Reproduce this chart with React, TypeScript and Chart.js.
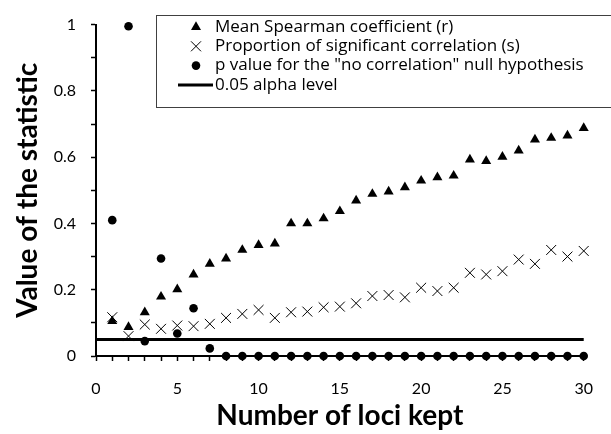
import React, { useEffect, useRef } from 'react';
import { Chart, registerables } from 'chart.js';

Chart.register(...registerables);

// ---- data ----
const lociKept = [1, 2, 3, 4, 5, 6, 7, 8, 9, 10, 11, 12, 13, 14, 15, 16, 17, 18, 19, 20, 21, 22, 23, 24, 25, 26, 27, 28, 29, 30];
const meanSpearman = [0.105, 0.087, 0.132, 0.179, 0.201, 0.246, 0.278, 0.294, 0.32, 0.335, 0.339, 0.4, 0.4, 0.415, 0.437, 0.469, 0.489, 0.496, 0.509, 0.529, 0.539, 0.544, 0.593, 0.588, 0.601, 0.62, 0.653, 0.658, 0.665, 0.688];
const propSignificant = [0.117, 0.06, 0.095, 0.082, 0.092, 0.09, 0.097, 0.115, 0.127, 0.139, 0.115, 0.132, 0.134, 0.147, 0.149, 0.159, 0.181, 0.184, 0.177, 0.206, 0.196, 0.206, 0.251, 0.246, 0.256, 0.291, 0.278, 0.32, 0.3, 0.317];
const pValueNoCorr = [0.41, 0.995, 0.045, 0.294, 0.068, 0.144, 0.023, 0, 0, 0, 0, 0, 0, 0, 0, 0, 0, 0, 0, 0, 0, 0, 0, 0, 0, 0, 0, 0, 0, 0];
const alphaX = [0, 30];
const alphaLevel = [0.05, 0.05];
const seriesLabels = [
  'Mean Spearman coefficient (r)',
  'Proportion of significant correlation (s)',
  'p value for the "no correlation" null hypothesis',
  '0.05 alpha level',
];
const xTitle = 'Number of loci kept';
const yTitle = 'Value of the statistic';

const FONT = 'Lato, "Open Sans", sans-serif';
const LEGEND_FONT = '"Open Sans", Lato, sans-serif';

const boxLegend = {
  id: 'boxLegend',
  afterDraw(chart: any) {
    const ctx = chart.ctx as CanvasRenderingContext2D;
    const left = 156, top = 15, right = 620, bottom = 107;
    const rowY = [27, 46.3, 65.6, 85];
    const markerX = 196;
    const textX = 215;
    ctx.save();
    ctx.fillStyle = '#fff';
    ctx.fillRect(left, top, right - left, bottom - top);
    ctx.strokeStyle = '#404040';
    ctx.lineWidth = 1;
    ctx.strokeRect(left + 0.5, top + 0.5, right - left, bottom - top);
    ctx.fillStyle = '#000';
    ctx.strokeStyle = '#000';
    chart.data.datasets.forEach((ds: any, i: number) => {
      const y = rowY[i];
      const style = ds.pointStyle;
      if (ds.showLine) {
        ctx.lineWidth = 3;
        ctx.beginPath();
        ctx.moveTo(178, y);
        ctx.lineTo(textX - 2, y);
        ctx.stroke();
      } else if (style === 'triangle') {
        const r = 5.8;
        ctx.beginPath();
        ctx.moveTo(markerX, y - r);
        ctx.lineTo(markerX + r * Math.sin((2 * Math.PI) / 3), y + r / 2);
        ctx.lineTo(markerX - r * Math.sin((2 * Math.PI) / 3), y + r / 2);
        ctx.closePath();
        ctx.fill();
      } else if (style === 'crossRot') {
        const d = 5;
        ctx.lineWidth = 1;
        ctx.beginPath();
        ctx.moveTo(markerX - d, y - d);
        ctx.lineTo(markerX + d, y + d);
        ctx.moveTo(markerX - d, y + d);
        ctx.lineTo(markerX + d, y - d);
        ctx.stroke();
      } else {
        ctx.beginPath();
        ctx.arc(markerX, y, 4.3, 0, Math.PI * 2);
        ctx.fill();
      }
      ctx.font = `17px ${LEGEND_FONT}`;
      ctx.textBaseline = 'middle';
      ctx.textAlign = 'left';
      ctx.fillText(ds.label, textX, y);
    });
    ctx.restore();
  },
};

export default function App() {
  const ref = useRef<HTMLCanvasElement>(null);
  useEffect(() => {
    document.body.style.margin = '0';
    const chart = new Chart(ref.current as HTMLCanvasElement, {
      type: 'scatter',
      data: {
        datasets: [
          {
            label: seriesLabels[0],
            data: lociKept.map((x, i) => ({ x, y: meanSpearman[i] })),
            pointStyle: 'triangle',
            pointRadius: 5.8,
            backgroundColor: '#000',
            borderColor: '#000',
            borderWidth: 0,
            clip: false,
          },
          {
            label: seriesLabels[1],
            data: lociKept.map((x, i) => ({ x, y: propSignificant[i] })),
            pointStyle: 'crossRot',
            pointRadius: 7,
            backgroundColor: '#000',
            borderColor: '#000',
            borderWidth: 1,
            clip: false,
          },
          {
            label: seriesLabels[2],
            data: lociKept.map((x, i) => ({ x, y: pValueNoCorr[i] })),
            pointStyle: 'circle',
            pointRadius: 4.3,
            backgroundColor: '#000',
            borderColor: '#000',
            borderWidth: 0,
            clip: false,
          },
          {
            label: seriesLabels[3],
            data: alphaX.map((x, i) => ({ x, y: alphaLevel[i] })),
            showLine: true,
            pointRadius: 0,
            borderColor: '#000',
            borderWidth: 3,
            clip: false,
          },
        ],
      } as any,
      options: {
        responsive: false,
        animation: false,
        layout: { padding: { top: 20, right: 24, left: 0, bottom: 0 } },
        plugins: { legend: { display: false }, tooltip: { enabled: false } },
        scales: {
          x: {
            type: 'linear',
            min: 0,
            max: 30,
            afterFit: (s: any) => { s.height = 78; },
            ticks: {
              stepSize: 1,
              autoSkip: false,
              maxRotation: 0,
              padding: 18,
              color: '#000',
              font: { family: FONT, size: 16 },
              callback: (v: any) => (Number(v) % 5 === 0 ? String(v) : ''),
            },
            grid: { drawOnChartArea: false, drawTicks: true, tickLength: 5, tickColor: '#000', tickWidth: 1.5 },
            border: { color: '#000', width: 2 },
            title: {
              display: true,
              text: xTitle,
              color: '#000',
              font: { family: FONT, size: 28, weight: 'bold' },
              padding: { top: 0, bottom: 1 },
            },
          },
          y: {
            type: 'linear',
            min: 0,
            max: 1,
            afterFit: (s: any) => { s.width = 96; },
            ticks: {
              stepSize: 0.1,
              autoSkip: false,
              padding: 15,
              color: '#000',
              font: { family: FONT, size: 16 },
              callback: (v: any) => {
                const t = Math.round(Number(v) * 10);
                return t % 2 === 0 ? String(t / 10) : '';
              },
            },
            grid: { drawOnChartArea: false, drawTicks: true, tickLength: 5, tickColor: '#000', tickWidth: 1.5 },
            border: { color: '#000', width: 2 },
            title: {
              display: true,
              text: yTitle,
              color: '#000',
              font: { family: FONT, size: 28, weight: 'bold' },
              padding: { top: 11, bottom: 0 },
            },
          },
        },
      } as any,
      plugins: [boxLegend],
    });
    return () => chart.destroy();
  }, []);
  return <canvas ref={ref} width={611} height={434} style={{ display: 'block' }} />;
}
